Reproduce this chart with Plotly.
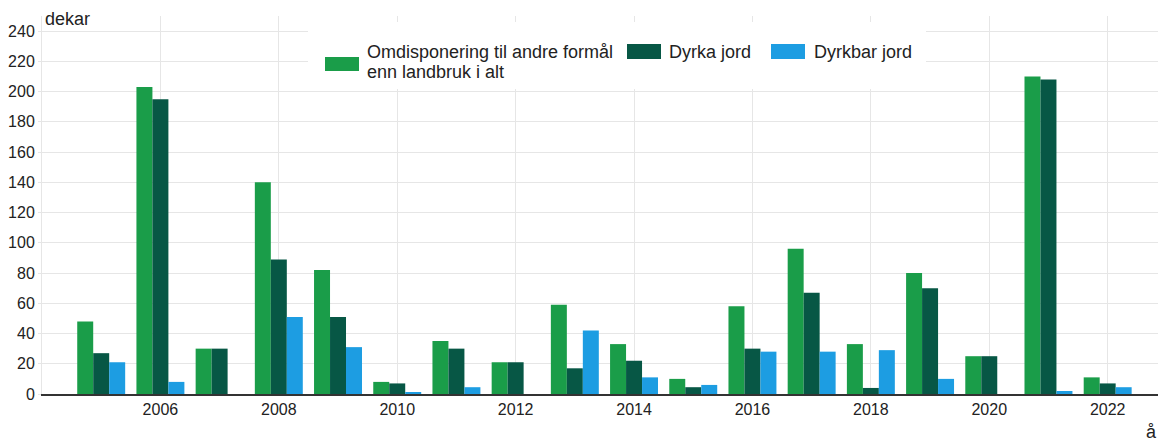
import plotly.graph_objects as go

years = list(range(2005, 2023))
omdisponering = [48, 203, 30, 140, 82, 8, 35, 21, 59, 33, 10, 58, 96, 33, 80, 25, 210, 11]
dyrka = [27, 195, 30, 89, 51, 7, 30, 21, 17, 22, 4.5, 30, 67, 4, 70, 25, 208, 7]
dyrkbar = [21, 8, None, 51, 31, 1, 4.5, None, 42, 11, 6, 28, 28, 29, 10, None, 2, 4.5]

series_names = ["Omdisponering til andre formål enn landbruk i alt", "Dyrka jord", "Dyrkbar jord"]
legend_lines = [["Omdisponering til andre formål", "enn landbruk i alt"], ["Dyrka jord"], ["Dyrkbar jord"]]
colors = ["#1a9d49", "#075745", "#1d9de2"]
x_ticks = list(range(2006, 2023, 2))
y_ticks = list(range(0, 241, 20))

W, H = 1158, 443
ML, MR, MT, MB = 42, 0, 16, 49
PW, PH = W - ML - MR, H - MT - MB

def px(x):
    return (x - ML) / PW

def py(y):
    return (H - MB - y) / PH

FONT = "Arial, Liberation Sans, sans-serif"
TXT = "#222222"
GRID = "#e6e6e6"

fig = go.Figure()
for name, vals, col in zip(series_names, [omdisponering, dyrka, dyrkbar], colors):
    fig.add_trace(go.Bar(x=years, y=vals, name=name, marker=dict(color=col, line=dict(width=0)),
                         showlegend=False))

fig.update_layout(
    width=W, height=H,
    margin=dict(l=ML, r=MR, t=MT, b=MB, autoexpand=False),
    plot_bgcolor="white", paper_bgcolor="white",
    barmode="group", bargap=0.19, bargroupgap=0,
    font=dict(family=FONT, size=16, color=TXT),
    xaxis=dict(range=[2004, 2022.85], tickvals=x_ticks, ticktext=[str(t) for t in x_ticks],
               showgrid=True, gridcolor=GRID, gridwidth=1, automargin=False,
               showline=True, linecolor="#333333", linewidth=1.5,
               ticks="", tickfont=dict(size=16, color=TXT), zeroline=False),
    yaxis=dict(range=[0, 250], tickvals=y_ticks, showgrid=True, gridcolor=GRID, gridwidth=1,
               automargin=False, showline=True, linecolor=GRID, linewidth=1,
               ticks="outside", ticklen=3, tickcolor=GRID,
               tickfont=dict(size=16, color=TXT), zeroline=False),
)

# legend background
shapes = [dict(type="rect", xref="paper", yref="paper", x0=px(308), x1=px(926), y0=py(89), y1=py(22),
               fillcolor="white", line=dict(width=0), layer="above")]
# legend swatches
sw = [(325, 359, 57, 71), (627, 661, 44, 59), (771, 805, 44, 59)]
for (x0, x1, y0, y1), col in zip(sw, colors):
    shapes.append(dict(type="rect", xref="paper", yref="paper", x0=px(x0), x1=px(x1), y0=py(y1), y1=py(y0),
                       fillcolor=col, line=dict(width=0), layer="above"))
fig.update_layout(shapes=shapes)

ann = [
    dict(text=legend_lines[0][0], x=px(365), y=py(52)),
    dict(text=legend_lines[0][1], x=px(365), y=py(72)),
    dict(text=legend_lines[1][0], x=px(667), y=py(52)),
    dict(text=legend_lines[2][0], x=px(812), y=py(52)),
    dict(text="dekar", x=px(43), y=py(19)),
]
for a in ann:
    fig.add_annotation(xref="paper", yref="paper", showarrow=False, xanchor="left", yanchor="middle",
                       align="left", font=dict(family=FONT, size=18, color=TXT), **a)
fig.add_annotation(text="å", xref="paper", yref="paper", x=px(1151), y=py(432), showarrow=False,
                   xanchor="center", yanchor="middle", font=dict(family=FONT, size=18, color=TXT))

fig.write_html("out.html", config={"displayModeBar": False},
               post_script="document.body.style.margin='0';document.body.style.padding='0';document.body.style.overflow='hidden';")
